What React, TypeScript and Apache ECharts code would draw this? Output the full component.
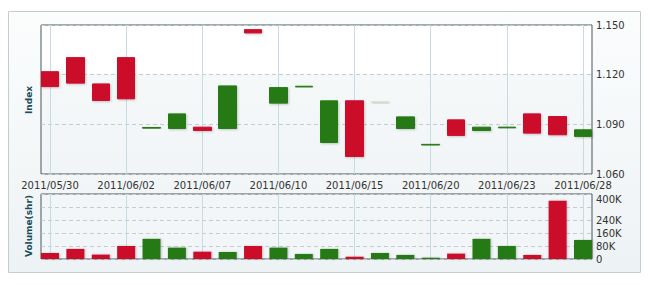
import { useEffect, useRef } from 'react';
import * as echarts from 'echarts';

const dates = [
  '2011/05/30', '2011/05/31', '2011/06/01', '2011/06/02', '2011/06/03', '2011/06/06',
  '2011/06/07', '2011/06/08', '2011/06/09', '2011/06/10', '2011/06/13', '2011/06/14',
  '2011/06/15', '2011/06/16', '2011/06/17', '2011/06/20', '2011/06/21', '2011/06/22',
  '2011/06/23', '2011/06/24', '2011/06/27', '2011/06/28',
];
const opens = [
  1.1218, 1.1303, 1.1144, 1.1303, 1.0881, 1.0875, 1.0883, 1.0875, 1.1472, 1.1028, 1.1130,
  1.0790, 1.1042, 1.1036, 1.0875, 1.0779, 1.0927, 1.0863, 1.0883, 1.0963, 1.0947, 1.0827,
];
const closes = [
  1.1128, 1.1149, 1.1044, 1.1054, 1.0877, 1.0963, 1.0863, 1.1132, 1.1452, 1.1122, 1.1126,
  1.1042, 1.0706, 1.1032, 1.0945, 1.0775, 1.0833, 1.0883, 1.0879, 1.0847, 1.0837, 1.0867,
];
const kinds = [
  'down', 'down', 'down', 'down', 'up', 'up', 'down', 'up', 'down', 'up', 'up',
  'up', 'down', 'pale', 'up', 'up', 'down', 'up', 'up', 'down', 'down', 'up',
];
const volumeKinds = [
  'down', 'down', 'down', 'down', 'up', 'up', 'down', 'up', 'down', 'up', 'up',
  'up', 'down', 'up', 'up', 'up', 'down', 'up', 'up', 'down', 'down', 'up',
];
const volumes = [
  37000, 62000, 27000, 80000, 124000, 70000, 45000, 43000, 80000, 70000, 31000,
  62000, 14000, 37000, 25000, 8000, 33000, 124000, 80000, 25000, 359000, 117000,
];
const priceTicks = [1.06, 1.09, 1.12, 1.15];
const volumeTicks = [0, 80000, 160000, 240000, 320000, 400000];
const labelIndexes = [0, 3, 6, 9, 12, 15, 18, 21];

const COLORS: Record<string, string> = {
  up: '#287a17',
  down: '#cc0a2c',
  pale: '#cfe2c6',
};

export default function App() {
  const ref = useRef<HTMLDivElement>(null);

  useEffect(() => {
    if (!ref.current) return;
    const chart = echarts.init(ref.current, undefined, { renderer: 'svg' });
    const pad = 0.355;
    const font = 'DejaVu Sans';
    const frame = '#46565c';
    const vGrid = '#c8dae2';
    const hGrid = '#c2ccd1';

    const candleData = dates.map((_, i) => {
      const c = COLORS[kinds[i]];
      return {
        value: [i, opens[i], closes[i], Math.min(opens[i], closes[i]), Math.max(opens[i], closes[i])],
        itemStyle: { color: c, color0: c, borderColor: c, borderColor0: c },
      };
    });
    const volumeData = dates.map((_, i) => ({
      value: [i, volumes[i]],
      itemStyle: { color: COLORS[volumeKinds[i]] },
    }));

    const xCommon = (gridIndex: number, showLabels: boolean) => ({
      type: 'value' as const,
      gridIndex,
      min: -pad,
      max: dates.length - 1 + pad,
      axisLine: { show: false },
      axisTick: { show: false, customValues: labelIndexes },
      axisLabel: {
        show: showLabels,
        customValues: labelIndexes,
        formatter: (v: number) => dates[Math.round(v)] ?? '',
        color: '#333',
        fontFamily: font,
        fontSize: 10,
        margin: 6,
      },
      splitLine: { show: true, lineStyle: { color: vGrid, width: 1 } },
    });

    chart.setOption({
      animation: false,
      backgroundColor: '#ffffff',
      graphic: [
        {
          type: 'rect',
          z: -10,
          shape: { x: 8.5, y: 11.5, width: 632, height: 261 },
          style: {
            fill: new echarts.graphic.LinearGradient(0, 0, 0, 1, [
              { offset: 0, color: '#fbfdfd' },
              { offset: 1, color: '#edf2f4' },
            ]),
            stroke: '#c3ccd0',
            lineWidth: 1,
          },
        },
        {
          type: 'text',
          x: 29,
          y: 100,
          rotation: Math.PI / 2,
          style: {
            text: 'Index',
            fill: '#1b4d5c',
            font: `bold 9px "${font}"`,
            align: 'center',
            verticalAlign: 'middle',
          },
        },
        {
          type: 'text',
          x: 29,
          y: 226,
          rotation: Math.PI / 2,
          style: {
            text: 'Volume(shr)',
            fill: '#1b4d5c',
            font: `bold 9px "${font}"`,
            align: 'center',
            verticalAlign: 'middle',
          },
        },
      ],
      grid: [
        {
          left: 41,
          top: 25,
          width: 551,
          height: 149,
          show: true,
          borderColor: frame,
          borderWidth: 1,
          backgroundColor: new echarts.graphic.LinearGradient(0, 0, 0, 1, [
            { offset: 0, color: '#ffffff' },
            { offset: 0.32, color: '#ffffff' },
            { offset: 0.34, color: '#f5f8f9' },
            { offset: 1, color: '#f1f5f7' },
          ]),
        },
        {
          left: 41,
          top: 194,
          width: 551,
          height: 65,
          show: true,
          borderColor: frame,
          borderWidth: 1,
          backgroundColor: '#f3f6f8',
        },
      ],
      xAxis: [xCommon(0, true), xCommon(1, false)],
      yAxis: [
        {
          type: 'value',
          gridIndex: 0,
          position: 'right',
          min: 1.06,
          max: 1.15,
          axisLine: { show: false },
          axisTick: { show: false, customValues: priceTicks },
          axisLabel: {
            customValues: priceTicks,
            showMinLabel: true,
            showMaxLabel: true,
            hideOverlap: false,
            formatter: (v: number) => v.toFixed(3),
            color: '#333',
            fontFamily: font,
            fontSize: 10,
            margin: 4,
          },
          splitLine: { show: true, lineStyle: { color: hGrid, type: [4, 3] } },
        },
        {
          type: 'value',
          gridIndex: 1,
          position: 'right',
          min: 0,
          max: 400000,
          axisLine: { show: false },
          axisTick: { show: false, customValues: volumeTicks },
          axisLabel: {
            customValues: volumeTicks,
            showMinLabel: true,
            showMaxLabel: true,
            hideOverlap: false,
            formatter: (v: number) => (v === 0 ? '0' : v === 400000 ? '{top|400K}' : `${v / 1000}K`),
            rich: {
              top: {
                color: '#333',
                fontFamily: font,
                fontSize: 10,
                padding: [11, 0, 0, 0],
              },
            },
            color: '#333',
            fontFamily: font,
            fontSize: 10,
            margin: 4,
          },
          splitLine: { show: true, lineStyle: { color: hGrid, type: [4, 3] } },
        },
      ],
      series: [
        {
          type: 'candlestick',
          xAxisIndex: 0,
          yAxisIndex: 0,
          barWidth: 18,
          data: candleData,
          itemStyle: {
            borderWidth: 1,
            shadowBlur: 2,
            shadowOffsetX: 1,
            shadowOffsetY: 1,
            shadowColor: 'rgba(0,0,0,0.2)',
          },
        },
        {
          type: 'bar',
          xAxisIndex: 1,
          yAxisIndex: 1,
          barWidth: 18,
          data: volumeData,
          itemStyle: {
            shadowBlur: 2,
            shadowOffsetX: 1,
            shadowOffsetY: 0,
            shadowColor: 'rgba(0,0,0,0.2)',
          },
        },
      ],
    });
    return () => chart.dispose();
  }, []);

  return (
    <div
      ref={ref}
      style={{ position: 'fixed', left: 0, top: 0, width: 650, height: 285 }}
    />
  );
}
